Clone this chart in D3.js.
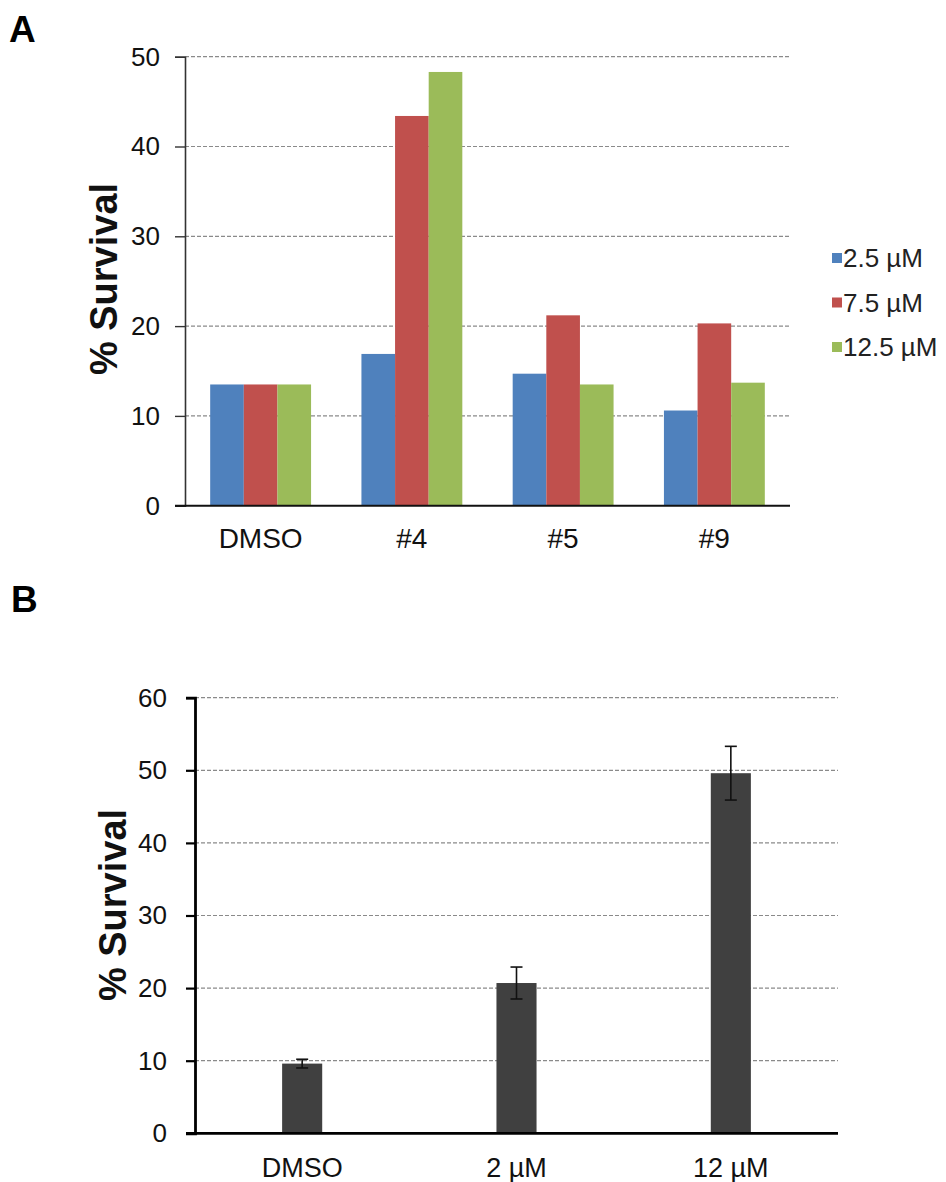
<!DOCTYPE html>
<html>
<head>
<meta charset="utf-8">
<script src="https://cdn.jsdelivr.net/npm/d3@7/dist/d3.min.js"></script>
<style>
  html, body { margin: 0; padding: 0; background: #fff; }
  svg { display: block; font-family: "Liberation Sans", Arial, sans-serif; }
</style>
</head>
<body>
<svg id="fig" width="946" height="1182"></svg>
<script>
// Panel A: survival per compound at three concentrations
const groupsA = ["DMSO", "#4", "#5", "#9"];
const seriesA = ["2.5 µM", "7.5 µM", "12.5 µM"];
const valuesA_25 = [13.5, 16.9, 14.7, 10.6];
const valuesA_75 = [13.5, 43.4, 21.2, 20.3];
const valuesA_125 = [13.5, 48.3, 13.5, 13.7];
const ticksA = [0, 10, 20, 30, 40, 50];

// Panel B: survival with compound dose (mean ± error)
const groupsB = ["DMSO", "2 µM", "12 µM"];
const meansB = [9.6, 20.7, 49.6];
const errorsB = [0.6, 2.2, 3.7];
const ticksB = [0, 10, 20, 30, 40, 50, 60];

const colorsA = ["#4F81BD", "#C0504D", "#9BBB59"];
const svg = d3.select("#fig");

// ---------- Panel A ----------
const A = { left: 185, right: 790, top: 56.7, bottom: 505.7 };
const yA = d3.scaleLinear().domain([0, 50]).range([A.bottom, A.top]);
const xA = d3.scaleBand().domain(groupsA).range([A.left, A.right])
  .paddingInner(0.333).paddingOuter(0.1665);
const xAin = d3.scaleBand().domain(seriesA).range([0, xA.bandwidth()]);

svg.append("text").attr("x", 9).attr("y", 42)
  .attr("font-size", 37).attr("font-weight", "bold").text("A");

const gA = svg.append("g");
// gridlines
gA.append("g").selectAll("line").data(ticksA.filter(d => d > 0)).join("line")
  .attr("x1", A.left).attr("x2", A.right)
  .attr("y1", d => yA(d)).attr("y2", d => yA(d))
  .attr("stroke", "#8a8a8a").attr("stroke-width", 1.2).attr("stroke-dasharray", "4,2");

// y axis
const axA = d3.axisLeft(yA).tickValues(ticksA).tickSize(10).tickPadding(15);
const axAg = gA.append("g").attr("transform", `translate(${A.left},0)`).call(axA);
axAg.select(".domain").attr("stroke", "#333").attr("stroke-width", 1.6);
axAg.selectAll(".tick line").attr("stroke", "#333").attr("stroke-width", 1.4);
axAg.selectAll(".tick text").attr("font-size", 26).attr("fill", "#111")
  .attr("font-family", "Liberation Sans, Arial, sans-serif");

// bars
const rowsA = groupsA.map((g, i) => ({
  group: g,
  vals: [valuesA_25[i], valuesA_75[i], valuesA_125[i]]
}));
gA.append("g").selectAll("g").data(rowsA).join("g")
  .attr("transform", d => `translate(${xA(d.group)},0)`)
  .selectAll("rect").data(d => d.vals.map((v, k) => ({ s: seriesA[k], v, k }))).join("rect")
  .attr("x", d => xAin(d.s)).attr("width", xAin.bandwidth())
  .attr("y", d => yA(d.v)).attr("height", d => yA(0) - yA(d.v))
  .attr("fill", d => colorsA[d.k]);

// x axis baseline
gA.append("line").attr("x1", A.left - 10).attr("x2", A.right)
  .attr("y1", A.bottom).attr("y2", A.bottom)
  .attr("stroke", "#111").attr("stroke-width", 2);

// category labels
gA.append("g").selectAll("text").data(groupsA).join("text")
  .attr("x", d => xA(d) + xA.bandwidth() / 2).attr("y", 548)
  .attr("text-anchor", "middle").attr("font-size", 28).attr("fill", "#111")
  .text(d => d);

// axis title
svg.append("text").attr("transform", "translate(117,279) rotate(-90)")
  .attr("text-anchor", "middle").attr("font-size", 38).attr("font-weight", "bold")
  .attr("fill", "#111").text("% Survival");

// legend
const leg = svg.append("g").attr("transform", "translate(832,258)");
const legRows = leg.selectAll("g").data(seriesA).join("g")
  .attr("transform", (d, i) => `translate(0,${i * 44.5})`);
legRows.append("rect").attr("x", 0).attr("y", -5).attr("width", 10).attr("height", 10)
  .attr("fill", (d, i) => colorsA[i]);
legRows.append("text").attr("x", 11).attr("y", 9).attr("font-size", 26)
  .attr("fill", "#222").text(d => d);

// ---------- Panel B ----------
const B = { left: 195, right: 838, top: 697.7, bottom: 1133.3 };
const yB = d3.scaleLinear().domain([0, 60]).range([B.bottom, B.top]);
const xB = d3.scaleBand().domain(groupsB).range([B.left, B.right])
  .paddingInner(0.813).paddingOuter(0.4065);

svg.append("text").attr("x", 11).attr("y", 612)
  .attr("font-size", 37).attr("font-weight", "bold").text("B");

const gB = svg.append("g");
gB.append("g").selectAll("line").data(ticksB.filter(d => d > 0)).join("line")
  .attr("x1", B.left).attr("x2", B.right)
  .attr("y1", d => yB(d)).attr("y2", d => yB(d))
  .attr("stroke", "#8a8a8a").attr("stroke-width", 1.2).attr("stroke-dasharray", "4,2");

const axB = d3.axisLeft(yB).tickValues(ticksB).tickSize(9).tickPadding(19);
const axBg = gB.append("g").attr("transform", `translate(${B.left},0)`).call(axB);
axBg.select(".domain").attr("stroke", "#000").attr("stroke-width", 2.8);
axBg.selectAll(".tick line").attr("stroke", "#000").attr("stroke-width", 2.2);
axBg.selectAll(".tick text").attr("font-size", 26).attr("fill", "#111")
  .attr("font-family", "Liberation Sans, Arial, sans-serif");

const rowsB = groupsB.map((g, i) => ({ group: g, v: meansB[i], e: errorsB[i] }));
gB.append("g").selectAll("rect").data(rowsB).join("rect")
  .attr("x", d => xB(d.group)).attr("width", xB.bandwidth())
  .attr("y", d => yB(d.v)).attr("height", d => yB(0) - yB(d.v))
  .attr("fill", "#404040");

// error bars
const eb = gB.append("g").selectAll("g").data(rowsB).join("g")
  .attr("transform", d => `translate(${xB(d.group) + xB.bandwidth() / 2},0)`)
  .attr("stroke", "#111").attr("stroke-width", 1.6);
eb.append("line").attr("y1", d => yB(d.v - d.e)).attr("y2", d => yB(d.v + d.e));
eb.append("line").attr("x1", -6).attr("x2", 6)
  .attr("y1", d => yB(d.v + d.e)).attr("y2", d => yB(d.v + d.e));
eb.append("line").attr("x1", -6).attr("x2", 6)
  .attr("y1", d => yB(d.v - d.e)).attr("y2", d => yB(d.v - d.e));

gB.append("line").attr("x1", B.left - 9).attr("x2", B.right)
  .attr("y1", B.bottom).attr("y2", B.bottom)
  .attr("stroke", "#000").attr("stroke-width", 2.8);

gB.append("g").selectAll("text").data(groupsB).join("text")
  .attr("x", d => xB(d) + xB.bandwidth() / 2).attr("y", 1177)
  .attr("text-anchor", "middle").attr("font-size", 27).attr("fill", "#111")
  .text(d => d);

svg.append("text").attr("transform", "translate(126,905) rotate(-90)")
  .attr("text-anchor", "middle").attr("font-size", 38).attr("font-weight", "bold")
  .attr("fill", "#111").text("% Survival");
</script>
</body>
</html>
